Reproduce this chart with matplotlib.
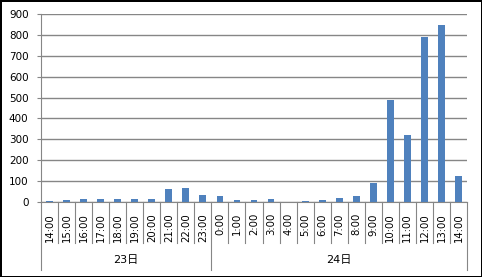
import matplotlib.pyplot as plt
import numpy as np

plt.rcParams['font.family'] = ['DejaVu Sans', 'Noto Sans CJK JP']

hours = ['14:00', '15:00', '16:00', '17:00', '18:00', '19:00', '20:00', '21:00', '22:00', '23:00',
         '0:00', '1:00', '2:00', '3:00', '4:00', '5:00', '6:00', '7:00', '8:00', '9:00',
         '10:00', '11:00', '12:00', '13:00', '14:00']
values = [5, 10, 14, 15, 15, 15, 15, 62, 67, 34,
          29, 10, 10, 14, 0, 5, 10, 19, 27, 91,
          489, 321, 791, 849, 124]
days = ['23日', '24日']
day_counts = [10, 15]

fig = plt.figure(figsize=(4.82, 2.77), dpi=100)
fig.patch.set_edgecolor('black')
fig.patch.set_linewidth(2)
ax = fig.add_axes([41 / 482, 75 / 277, 426 / 482, 188 / 277])

x = np.arange(len(hours))
ax.bar(x, values, width=0.4, color='#4F81BD', zorder=3)

ax.set_xlim(-0.5, len(hours) - 0.5)
ax.set_ylim(0, 900)
ax.set_yticks(range(0, 901, 100))
ax.grid(axis='y', color='#868686', linewidth=1)
ax.tick_params(axis='y', length=3, color='#868686', labelsize=7.5, pad=6)
ax.set_xticks(x)
ax.set_xticklabels(hours, rotation=90, fontsize=7.3)
ax.tick_params(axis='x', length=0, pad=8)

for s in ['top', 'right']:
    ax.spines[s].set_visible(False)
for s in ['left', 'bottom']:
    ax.spines[s].set_color('#868686')

# category separators
trans = ax.get_xaxis_transform()
bounds = np.cumsum([0] + day_counts)
for k in range(len(hours) + 1):
    y_end = -0.36 if k in bounds else -0.218
    ax.plot([k - 0.5, k - 0.5], [0, y_end], color='#868686', linewidth=0.8,
            transform=trans, clip_on=False)

# day labels
for i, d in enumerate(days):
    c = (bounds[i] + bounds[i + 1]) / 2 - 0.5
    ax.text(c, -0.309, d, transform=trans, ha='center', va='center', fontsize=8)

plt.savefig('out.png', dpi=100)
